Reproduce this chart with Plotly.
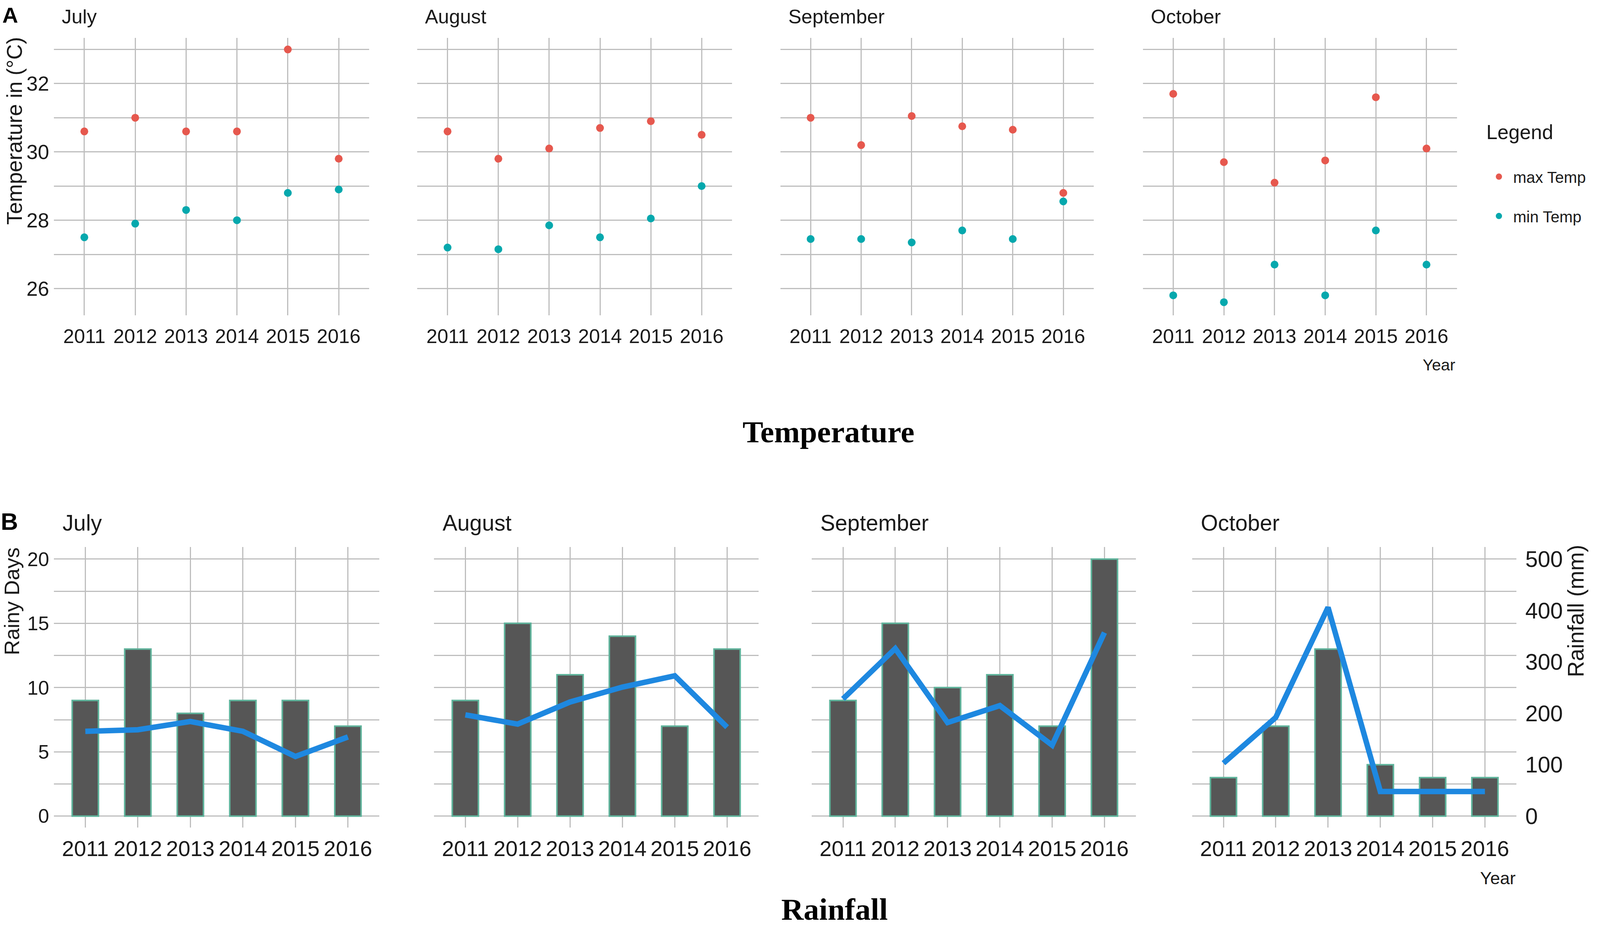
#!/usr/bin/env python3

"""
Monthly temperature (A) and rainfall (B) for July-October, 2011-2016.
Writes out.html
"""

import plotly.graph_objects as go

# ---- data -----------------------------------------------------------------

years = [2011, 2012, 2013, 2014, 2015, 2016]
months = ["July", "August", "September", "October"]

max_temp_jul = [30.6, 31.0, 30.6, 30.6, 33.0, 29.8]
min_temp_jul = [27.5, 27.9, 28.3, 28.0, 28.8, 28.9]
max_temp_aug = [30.6, 29.8, 30.1, 30.7, 30.9, 30.5]
min_temp_aug = [27.2, 27.15, 27.85, 27.5, 28.05, 29.0]
max_temp_sep = [31.0, 30.2, 31.05, 30.75, 30.65, 28.8]
min_temp_sep = [27.45, 27.45, 27.35, 27.7, 27.45, 28.55]
max_temp_oct = [31.7, 29.7, 29.1, 29.75, 31.6, 30.1]
min_temp_oct = [25.8, 25.6, 26.7, 25.8, 27.7, 26.7]

rainy_days_jul = [9, 13, 8, 9, 9, 7]
rainy_days_aug = [9, 15, 11, 14, 7, 13]
rainy_days_sep = [9, 15, 10, 11, 7, 20]
rainy_days_oct = [3, 7, 13, 4, 3, 3]

rainfall_jul = [165, 168, 184, 165, 116, 154]
rainfall_aug = [197, 179, 222, 251, 273, 173]
rainfall_sep = [228, 326, 182, 215, 138, 357]
rainfall_oct = [103, 192, 406, 48, 48, 48]

temp_ticks = [26, 27, 28, 29, 30, 31, 32, 33]
temp_labels = ["26", "", "28", "", "30", "", "32", ""]
days_ticks = [0, 2.5, 5, 7.5, 10, 12.5, 15, 17.5, 20]
days_labels = ["0", "", "5", "", "10", "", "15", "", "20"]
rain_ticks = [0, 100, 200, 300, 400, 500]

max_temps = [max_temp_jul, max_temp_aug, max_temp_sep, max_temp_oct]
min_temps = [min_temp_jul, min_temp_aug, min_temp_sep, min_temp_oct]
rainy_days = [rainy_days_jul, rainy_days_aug, rainy_days_sep, rainy_days_oct]
rainfalls = [rainfall_jul, rainfall_aug, rainfall_sep, rainfall_oct]

# ---- styling --------------------------------------------------------------

W, H = 4550, 2370  # reference size, positions below are in these pixels
S = 4550 / 4096  # page is narrower than the reference, so widths shrink

SANS = "Liberation Sans, Arial, sans-serif"
SERIF = "Liberation Serif, Times New Roman, serif"
TEXT = "#1a1a1a"
GRID = "#bebebe"
RED = "#E6584E"
TEAL = "#05A8AD"
BAR_FILL = "#565656"
BAR_EDGE = "#5FB39B"
LINE_BLUE = "#1E88E0"

# panel boxes in pixels: (left, right) and (top, bottom)
top_x = [(153, 1050), (1186, 2082), (2219, 3110), (3250, 4143)]
top_y = (96, 807)
bot_x = [(153, 1079), (1234, 2157), (2308, 3230), (3390, 4312)]
bot_y = (1401, 2121)


def px(v):
    return v / S


def ipx(v):
    return int(round(v / S))


def xdom(p):
    return [p[0] / W, p[1] / W]


def ydom(p):
    return [1 - p[1] / H, 1 - p[0] / H]


fig = go.Figure()
layout = {}

for i, month in enumerate(months):
    # --- temperature panel
    n = i + 1
    xa, ya = f"x{n}", f"y{n}"
    fig.add_trace(go.Scatter(
        x=years, y=max_temps[i], mode="markers", name="max Temp",
        marker=dict(color=RED, size=20), xaxis=xa, yaxis=ya,
        showlegend=(i == 0), legendgroup="max",
    ))
    fig.add_trace(go.Scatter(
        x=years, y=min_temps[i], mode="markers", name="min Temp",
        marker=dict(color=TEAL, size=20), xaxis=xa, yaxis=ya,
        showlegend=(i == 0), legendgroup="min",
    ))
    layout[f"xaxis{n}"] = dict(
        domain=xdom(top_x[i]), anchor=ya, range=[2010.4, 2016.6],
        tickvals=years, ticktext=[str(y) for y in years], tickangle=0,
        tickfont=dict(family=SANS, size=px(56), color=TEXT),
        showgrid=True, gridcolor=GRID, gridwidth=3, zeroline=False,
        showline=False, ticks="", ticklabelstandoff=20,
    )
    layout[f"yaxis{n}"] = dict(
        domain=ydom(top_y), anchor=xa, range=[25.22, 33.34],
        tickvals=temp_ticks, ticktext=temp_labels,
        showticklabels=(i == 0),
        tickfont=dict(family=SANS, size=px(58), color=TEXT),
        showgrid=True, gridcolor=GRID, gridwidth=3, zeroline=False,
        showline=False, ticks="", ticklabelstandoff=ipx(12),
    )

    # --- rainfall panel: bars on rainy days, line on rainfall (mm)
    n = i + 5
    m = i + 9
    xa, ya, ya2 = f"x{n}", f"y{n}", f"y{m}"
    fig.add_trace(go.Bar(
        x=years, y=rainy_days[i], width=0.5, xaxis=xa, yaxis=ya,
        marker=dict(color=BAR_FILL, line=dict(color=BAR_EDGE, width=4)),
        showlegend=False,
    ))
    fig.add_trace(go.Scatter(
        x=years, y=rainfalls[i], mode="lines", xaxis=xa, yaxis=ya2,
        line=dict(color=LINE_BLUE, width=14), showlegend=False,
    ))
    layout[f"xaxis{n}"] = dict(
        domain=xdom(bot_x[i]), anchor=ya, range=[2010.4, 2016.6],
        tickvals=years, ticktext=[str(y) for y in years], tickangle=0,
        tickfont=dict(family=SANS, size=px(62), color=TEXT),
        showgrid=True, gridcolor=GRID, gridwidth=3, zeroline=False,
        showline=False, ticks="", ticklabelstandoff=16,
    )
    layout[f"yaxis{n}"] = dict(
        domain=ydom(bot_y), anchor=xa, range=[-0.9, 20.95],
        tickvals=days_ticks, ticktext=days_labels,
        showticklabels=(i == 0),
        tickfont=dict(family=SANS, size=px(56), color=TEXT),
        showgrid=True, gridcolor=GRID, gridwidth=3, zeroline=False,
        showline=False, ticks="", ticklabelstandoff=ipx(12),
    )
    layout[f"yaxis{m}"] = dict(
        overlaying=ya, anchor=xa, side="right", range=[-22.5, 523.75],
        tickvals=rain_ticks, showticklabels=(i == 3),
        tickfont=dict(family=SANS, size=px(64), color=TEXT),
        showgrid=False, zeroline=False, showline=False, ticks="",
        ticklabelstandoff=ipx(24),
    )

fig.update_layout(**layout)


def add_text(text, x, y, size, family=SANS, xanchor="left", angle=0,
             bold=False):
    # size is in page px
    fig.add_annotation(
        text=f"<b>{text}</b>" if bold else text,
        x=x / W, y=1 - y / H, xref="paper", yref="paper",
        xanchor=xanchor, yanchor="middle", showarrow=False, textangle=angle,
        font=dict(family=family, size=size,
                  color="black" if bold else TEXT),
    )


# panel letters and facet titles
add_text("A", 4, 38, px(62), bold=True)
add_text("B", 0, 1336, px(68), bold=True)
for i, month in enumerate(months):
    add_text(month, top_x[i][0] + 20, 42, px(56))
    add_text(month, bot_x[i][0] + 22, 1340, px(63))

# axis titles (rotated ones run vertically, so no width shrink)
add_text("Temperature in (°C)", 42, 335, 55, xanchor="center", angle=-90)
add_text("Rainy Days", 34, 1541, 54, xanchor="center", angle=-90)
add_text("Rainfall (mm)", 4482, 1565, 57, xanchor="center", angle=-90)
add_text("Year", 4141, 935, px(46), xanchor="right")
add_text("Year", 4312, 2250, px(50), xanchor="right")

# legend title
add_text("Legend", 4225, 338, px(57))

# section captions
add_text("Temperature", 2356, 1106, px(88), family=SERIF, xanchor="center", bold=True)
add_text("Rainfall", 2373, 2330, px(88), family=SERIF, xanchor="center", bold=True)

fig.update_layout(
    autosize=True,
    margin=dict(l=0, r=0, t=0, b=0),
    paper_bgcolor="white", plot_bgcolor="white",
    showlegend=True,
    legend=dict(
        x=4222 / W, y=1 - 419 / H, xanchor="left", yanchor="top",
        font=dict(family=SANS, size=px(45), color=TEXT),
        bgcolor="rgba(0,0,0,0)", tracegroupgap=45, itemwidth=63,
    ),
)

# fill the whole browser window
fig.write_html(
    "out.html",
    config={"displayModeBar": False},
    default_width="100vw",
    default_height="100vh",
    post_script="document.body.style.margin='0';"
                "document.body.style.overflow='hidden';",
)
